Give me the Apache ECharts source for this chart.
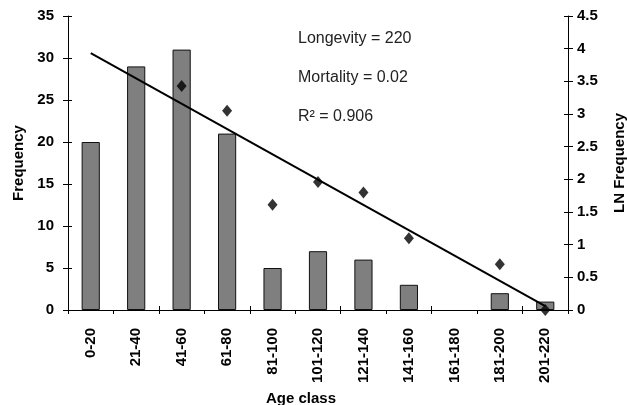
<!DOCTYPE html>
<html>
<head>
<meta charset="utf-8">
<script src="https://cdn.jsdelivr.net/npm/echarts@6/dist/echarts.min.js"></script>
<style>html,body{margin:0;padding:0;background:#fff}#c{width:627px;height:405px}</style>
</head>
<body>
<div id="c"></div>
<script>
const categories = ['0-20','21-40','41-60','61-80','81-100','101-120','121-140','141-160','161-180','181-200','201-220'];
const frequency = [20, 29, 31, 21, 5, 7, 6, 3, 0, 2, 1];
const lnFrequency = ['-', '-', 3.43, 3.05, 1.61, 1.96, 1.80, 1.10, '-', 0.70, 0.0];
const trendStart = ['0-20', 3.93];
const trendEnd = ['201-220', 0.06];
const annotations = ['Longevity = 220', 'Mortality = 0.02', 'R\u00B2 = 0.906'];

const chart = echarts.init(document.getElementById('c'));
const boldFont = {fontFamily: 'Liberation Sans, Arial, sans-serif', fontWeight: 'bold', color: '#000'};

chart.setOption({
  animation: false,
  backgroundColor: '#fff',
  grid: {left: 68, right: 59, top: 16, bottom: 95, containLabel: false, outerBoundsMode: 'none'},
  xAxis: [{
    type: 'category', data: categories, position: 'bottom',
    boundaryGap: true,
    axisLine: {lineStyle: {color: '#000', width: 1}},
    axisTick: {show: true, length: 4, lineStyle: {color: '#000'}},
    axisLabel: Object.assign({rotate: 90, fontSize: 15, margin: 18, interval: 0}, boldFont),
    name: 'Age class', nameLocation: 'middle', nameGap: 78,
    nameTextStyle: Object.assign({fontSize: 15, padding: [0, 34, 0, 0]}, boldFont)
  }, {
    type: 'category', data: categories, position: 'bottom',
    axisLine: {show: false},
    axisTick: {show: true, inside: true, length: 4, lineStyle: {color: '#000'}},
    axisLabel: {show: false}
  }],
  yAxis: [{
    type: 'value', min: 0, max: 35, interval: 5, position: 'left',
    axisLine: {show: true, lineStyle: {color: '#000'}},
    axisTick: {show: true, length: 5, lineStyle: {color: '#000'}},
    splitLine: {show: false},
    axisLabel: Object.assign({fontSize: 15, margin: 14}, boldFont),
    name: 'Frequency', nameLocation: 'middle', nameGap: 40,
    nameTextStyle: Object.assign({fontSize: 15}, boldFont)
  }, {
    type: 'value', min: 0, max: 4.5, interval: 0.5, position: 'right',
    axisLine: {show: true, lineStyle: {color: '#000'}},
    axisTick: {show: true, length: 5, lineStyle: {color: '#000'}},
    splitLine: {show: false},
    axisLabel: Object.assign({fontSize: 15, margin: 9}, boldFont),
    name: 'LN Frequency', nameLocation: 'middle', nameGap: 44,
    nameTextStyle: Object.assign({fontSize: 15}, boldFont)
  }, {
    type: 'value', min: 0, max: 35, interval: 5, position: 'left',
    axisLine: {show: false},
    axisTick: {show: true, inside: true, length: 4, lineStyle: {color: '#000'}},
    splitLine: {show: false}, axisLabel: {show: false}
  }, {
    type: 'value', min: 0, max: 4.5, interval: 0.5, position: 'right',
    axisLine: {show: false},
    axisTick: {show: true, inside: true, length: 4, lineStyle: {color: '#000'}},
    splitLine: {show: false}, axisLabel: {show: false}
  }],
  series: [{
    type: 'bar', xAxisIndex: 0, yAxisIndex: 0,
    data: frequency.map(v => v === 0 ? {value: v, itemStyle: {borderWidth: 0}} : v),
    barWidth: '40%',
    itemStyle: {color: '#7f7f7f', borderColor: '#111', borderWidth: 1}
  }, {
    type: 'line', data: [trendStart, trendEnd], xAxisIndex: 0, yAxisIndex: 1,
    symbol: 'none', lineStyle: {color: '#000', width: 2}, z: 3
  }, {
    type: 'scatter', data: lnFrequency, xAxisIndex: 0, yAxisIndex: 1,
    symbol: 'diamond', symbolSize: [10, 12],
    itemStyle: {color: '#000'}, z: 4
  }],
  graphic: annotations.map((t, i) => ({
    type: 'text', left: 298, top: 31 + i * 39,
    style: {text: t, font: '16px "Liberation Sans", Arial, sans-serif', fill: '#222'}
  }))
});
</script>
</body>
</html>
